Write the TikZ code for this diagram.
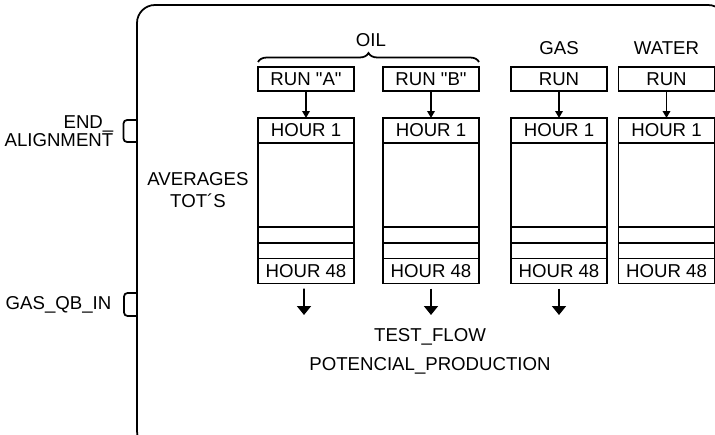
\documentclass[tikz,border=0pt]{standalone}
\usepackage{fontspec}
\newfontfamily\diagfont{Liberation Sans}
\usetikzlibrary{arrows.meta,decorations.pathreplacing}

\begin{document}
\begin{tikzpicture}[font=\diagfont\fontsize{10.6}{11.4}\selectfont,x=1cm,y=1cm,line width=1pt,
    runbox/.style={draw,minimum width=1.92cm,minimum height=0.48cm,inner sep=0pt,outer sep=0pt},
    hourbox/.style={draw,minimum width=1.92cm,minimum height=0.50cm,inner sep=0pt,outer sep=0pt},
    runarrow/.style={-{Triangle[width=0.15cm,length=0.14cm]}},
    flowarrow/.style={-{Triangle[width=0.28cm,length=0.18cm]}}]
    \useasboundingbox (0,0) rectangle (14.30,8.68);
    \clip (0,0) rectangle (14.30,8.68);

    % frame of the block
    \draw[rounded corners=0.36cm] (2.74,-0.30) rectangle (14.52,8.58);

    % ports on the left side
    \node[anchor=east,align=right] (endalign) at (2.40,6.06)
        {END\_\\[-0.05cm]ALIGNMENT};
    \draw[rounded corners=2pt] (2.74,6.28) -- (2.47,6.28) -- (2.47,5.84) -- (2.74,5.84);
    \node[anchor=east] (gasqb) at (2.36,2.58) {GAS\_QB\_IN};
    \draw[rounded corners=2pt] (2.74,2.82) -- (2.48,2.82) -- (2.48,2.36) -- (2.74,2.36);

    \node[align=center] (averages) at (3.96,4.88) {AVERAGES\\[0.03cm]TOT´S};

    % group labels
    \node (oil) at (7.42,7.88) {OIL};
    \draw[decorate,decoration={brace,amplitude=0.18cm}] (5.16,7.44) -- (9.58,7.44);
    \node (gas) at (11.18,7.72) {GAS};
    \node (water) at (13.33,7.72) {WATER};

    % run boxes
    \node[runbox] (runA) at (6.12,7.10) {RUN "A"};
    \node[runbox] (runB) at (8.62,7.10) {RUN "B"};
    \node[runbox] (rungas) at (11.18,7.10) {RUN};
    \node[runbox] (runwater) at (13.33,7.10) {RUN};

    % hourly columns
    \node[hourbox] (hourA1) at (6.12,6.07) {HOUR 1};
    \node[hourbox] (hourA48) at (6.12,3.26) {HOUR 48};
    \draw (hourA1.north west) rectangle (hourA48.south east);
    \draw (5.16,4.14) -- (7.08,4.14);
    \draw (5.16,3.82) -- (7.08,3.82);

    \node[hourbox] (hourB1) at (8.62,6.07) {HOUR 1};
    \node[hourbox] (hourB48) at (8.62,3.26) {HOUR 48};
    \draw (hourB1.north west) rectangle (hourB48.south east);
    \draw (7.66,4.14) -- (9.58,4.14);
    \draw (7.66,3.82) -- (9.58,3.82);

    \node[hourbox] (hourgas1) at (11.18,6.07) {HOUR 1};
    \node[hourbox] (hourgas48) at (11.18,3.26) {HOUR 48};
    \draw (hourgas1.north west) rectangle (hourgas48.south east);
    \draw (10.22,4.14) -- (12.14,4.14);
    \draw (10.22,3.82) -- (12.14,3.82);

    \node[hourbox] (hourwater1) at (13.33,6.07) {HOUR 1};
    \node[hourbox] (hourwater48) at (13.33,3.26) {HOUR 48};
    \draw (hourwater1.north west) rectangle (hourwater48.south east);
    \draw (12.37,4.14) -- (14.29,4.14);
    \draw (12.37,3.82) -- (14.29,3.82);

    \draw[runarrow] (runA) -- (hourA1);
    \draw[runarrow] (runB) -- (hourB1);
    \draw[runarrow] (rungas) -- (hourgas1);
    \draw[runarrow] (runwater) -- (hourwater1);

    % outputs
    \coordinate (outA) at (6.08,2.38);
    \coordinate (outB) at (8.62,2.38);
    \coordinate (outgas) at (11.18,2.38);
    \draw[flowarrow] ([xshift=-0.04cm,yshift=-0.10cm]hourA48.south) -- (outA);
    \draw[flowarrow] ([yshift=-0.10cm]hourB48.south) -- (outB);
    \draw[flowarrow] ([yshift=-0.10cm]hourgas48.south) -- (outgas);

    \node (testflow) at (8.60,1.94) {TEST\_FLOW};
    \node (potencial) at (8.60,1.36) {POTENCIAL\_PRODUCTION};
\end{tikzpicture}
\end{document}
